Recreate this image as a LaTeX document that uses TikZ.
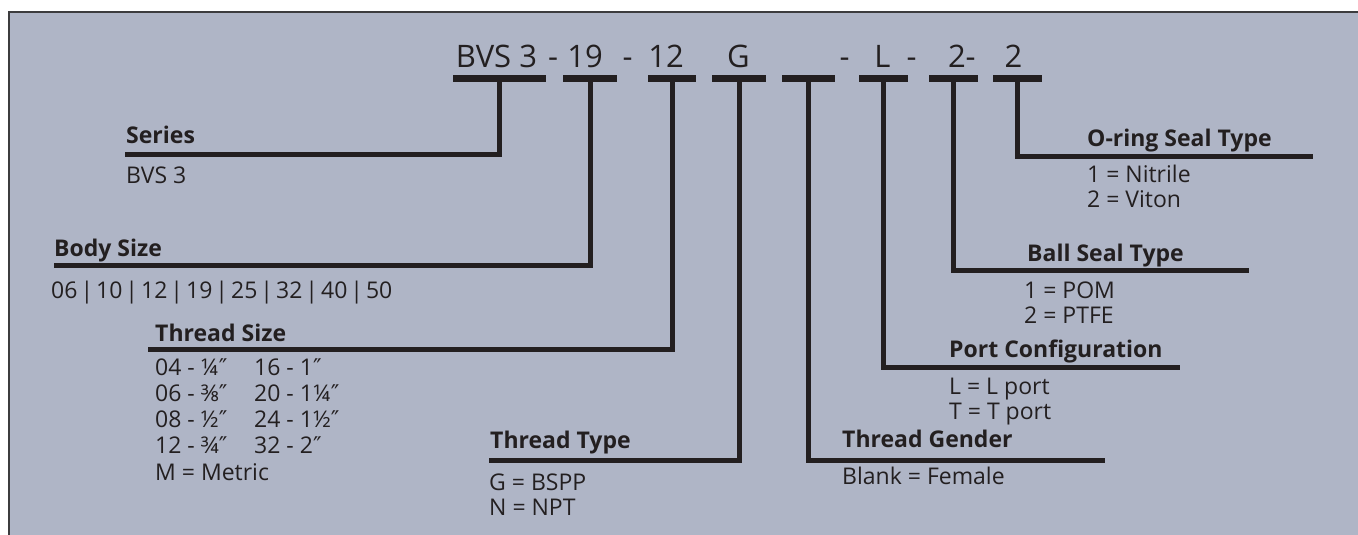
\documentclass[tikz,border=0pt]{standalone}
\usepackage{fontspec}
\setmainfont{Open Sans}
\newfontfamily\primefont{DejaVu Sans}
\newcommand\inch{{\primefont ″}}
\newcommand\sep{\hspace{3pt}|\hspace{3pt}}
\usetikzlibrary{positioning}
\definecolor{panel}{RGB}{175,181,198}
\definecolor{ink}{RGB}{35,31,32}
\definecolor{rim}{RGB}{60,60,62}
\tikzset{
  code/.style={font=\fontsize{31}{31}\selectfont, text=ink, anchor=base, inner sep=0pt},
  bar/.style={fill=ink, inner sep=0pt, minimum height=6.5pt},
  lead/.style={draw=ink, line width=5pt, line join=miter},
  head/.style={font=\bfseries\fontsize{23}{25}\selectfont, text=ink, anchor=base west, inner sep=0pt},
  desc/.style={font=\fontsize{23}{25}\selectfont, text=ink, anchor=base west, inner sep=0pt, align=left},
}
\begin{document}
\begin{tikzpicture}[x=1pt,y=-1pt]
\useasboundingbox (0,0) rectangle (1358,535);
\fill [panel] (9,12) rectangle (1358,535);
\draw [rim, line width=2pt] (9,535) -- (9,12) -- (1358,12);

\node [code] (cSeries) at (496.5,67) {BVS 3};
\node [code] (d1) at (553,67) {-};
\node [code] (cBody) at (585,67) {19};
\node [code] (d2) at (627.5,67) {-};
\node [code] (cThSize) at (666,67) {12};
\node [code] (cThType) at (738.5,67) {G};
\node [code] (d3) at (844.5,67) {-};
\node [code] (cPort) at (882.5,67) {L};
\node [code] (d4) at (911.5,67) {-};
\node [code] (cBall) at (957,67) {2};
\node [code] (d5) at (970.5,67) {-};
\node [code] (cOring) at (1013.5,67) {2};

\node [bar, minimum width=93pt] (bSeries) at (499,78.5) {};
\node [bar, minimum width=54pt] (bBody) at (590,78.5) {};
\node [bar, minimum width=48pt] (bThSize) at (672,78.5) {};
\node [bar, minimum width=54pt] (bThType) at (739,78.5) {};
\node [bar, minimum width=53pt] (bGender) at (808.5,78.5) {};
\node [bar, minimum width=49pt] (bPort) at (883.5,78.5) {};
\node [bar, minimum width=49pt] (bBall) at (953,78.5) {};
\node [bar, minimum width=49pt] (bOring) at (1017.5,78.5) {};

\coordinate (lSeries) at (125,154.5);
\coordinate (lBody) at (54,265.5);
\coordinate (lThSize) at (148,349.5);
\coordinate (lThType) at (489,460);
\coordinate (lGender) at (1105,460.5);
\coordinate (lPort) at (1180,367.5);
\coordinate (lBall) at (1249,270.5);
\coordinate (lOring) at (1313,156);

\draw [lead] (bSeries) |- (lSeries);
\draw [lead] (bBody) |- (lBody);
\draw [lead] (bThSize) |- (lThSize);
\draw [lead] (bThType) |- (lThType);
\draw [lead] (bGender) |- (lGender);
\draw [lead] (bPort) |- (lPort);
\draw [lead] (bBall) |- (lBall);
\draw [lead] (bOring) |- (lOring);

\node [head] (hSeries) at (126,143) {Series};
\node [desc] (tSeries) at (126,183) {BVS 3};
\node [head] (hBody) at (54,256) {Body Size};
\node [desc] (tBody) at (51,298) {06\sep10\sep12\sep19\sep25\sep32\sep40\sep50};
\node [head] (hThSize) at (155,341.5) {Thread Size};
\node [desc] (tThSize) at (155,375) {\fontsize{23}{26.3}\selectfont\begin{tabular}[t]{@{}p{99pt}@{}l@{}}
04 - ¼\inch & 16 - 1\inch\\
06 - ⅜\inch & 20 - 1¼\inch\\
08 - ½\inch & 24 - 1½\inch\\
12 - ¾\inch & 32 - 2\inch\\
\multicolumn{2}{@{}l@{}}{M = Metric}
\end{tabular}};
\node [head] (hThType) at (490,448) {Thread Type};
\node [desc] (tThType) at (489,515) {G = BSPP\\N = NPT};
\node [head] (hGender) at (842,447) {Thread Gender};
\node [desc] (tGender) at (842,484) {Blank = Female};
\node [head] (hPort) at (949,357) {Port Configuration};
\node [desc] (tPort) at (949,419) {L = L port\\T = T port};
\node [head] (hBall) at (1027,261.5) {Ball Seal Type};
\node [desc] (tBall) at (1024,323) {1 = POM\\2 = PTFE};
\node [head] (hOring) at (1087,146) {O-ring Seal Type};
\node [desc] (tOring) at (1087,207) {1 = Nitrile\\2 = Viton};
\end{tikzpicture}
\end{document}
